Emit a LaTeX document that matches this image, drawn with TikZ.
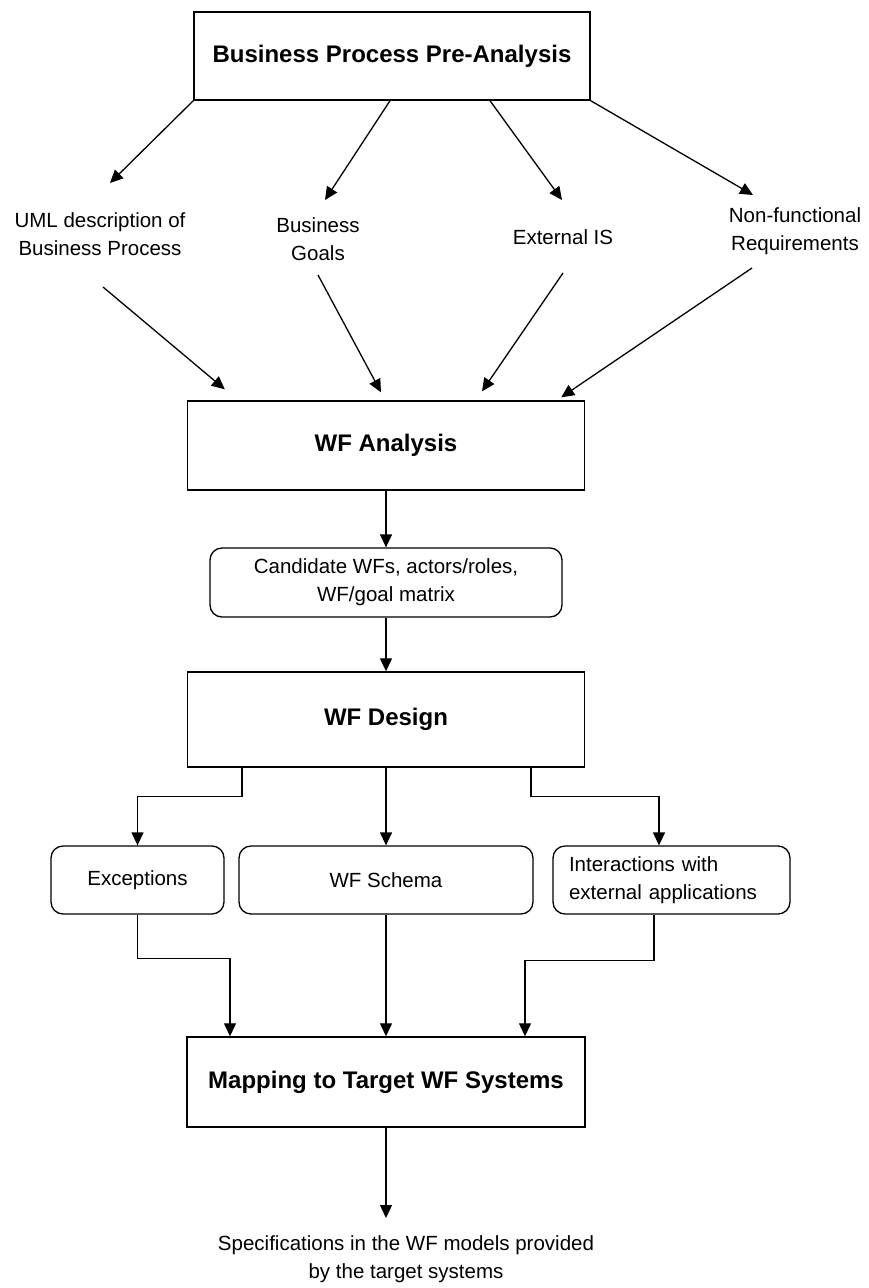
\documentclass[tikz,border=0pt]{standalone}
\usepackage{fontspec}
\setmainfont{Liberation Sans}
\usetikzlibrary{arrows.meta}
\newcommand{\normtext}{\fontsize{20.5pt}{28pt}\selectfont}
\newcommand{\boldtext}{\fontsize{24pt}{29pt}\selectfont\bfseries}
\begin{document}
\begin{tikzpicture}[x=1pt,y=-1pt,
  box/.style={draw, line width=1.4pt, inner sep=0pt, font=\boldtext},
  rbox/.style={draw, line width=1.3pt, rounded corners=12pt, inner sep=0pt, align=center, font=\normtext},
  lbl/.style={align=center, inner sep=0pt, font=\normtext},
  arr/.style={line width=1.3pt, -{Triangle[length=13pt,width=12pt]}}]
\useasboundingbox (0,0) rectangle (869,1288);

% main boxes
\node[box, minimum width=396pt, minimum height=88pt] (bpa) at (392,56) {Business Process Pre-Analysis};
\node[box, minimum width=397pt, minimum height=89pt] (wfa) at (386,445.5) {WF Analysis};
\node[rbox, minimum width=352pt, minimum height=69pt] (cand) at (386,582.5) {Candidate WFs, actors/roles,\\WF/goal matrix};
\node[box, minimum width=397pt, minimum height=95pt] (wfd) at (386,719.5) {WF Design};
\node[rbox, minimum width=173pt, minimum height=68pt] (exc) at (137.5,880) {Exceptions};
\node[rbox, minimum width=294pt, minimum height=68pt] (schema) at (386,880) {WF Schema};
\node[rbox, minimum height=68pt, text width=205pt, align=left, inner xsep=16pt] (inter) at (671.5,880) {Interactions with\\external applications};
\node[box, minimum width=398pt, minimum height=90pt] (map) at (386,1082) {Mapping to Target WF Systems};

% labels
\node[lbl] (uml) at (100,234) {UML description of\\Business Process};
\node[lbl] (goals) at (318,239) {Business\\Goals};
\node[lbl] (extis) at (563,237) {External IS};
\node[lbl] (nfr) at (795,231) {Non-functional\\Requirements};
\node[lbl] (spec) at (406,1259) {Specifications in the WF models provided\\by the target systems};
\coordinate (specin) at (386,1218);

% top box to labels
\draw[arr] (bpa.south west) -- ([shift={(10pt,51pt)}]uml.center);
\draw[arr] ([xshift=-2pt]bpa.south) -- ([shift={(7pt,39pt)}]goals.center);
\draw[arr] ([xshift=98pt]bpa.south) -- ([shift={(-1pt,37pt)}]extis.center);
\draw[arr] (bpa.south east) -- ([shift={(-42pt,36pt)}]nfr.center);

% labels to WF Analysis
\draw[arr] ([shift={(3pt,-53pt)}]uml.center) -- ([shift={(38pt,11pt)}]wfa.north west);
\draw[arr] ([shift={(0pt,-36pt)}]goals.center) -- ([shift={(-5pt,8pt)}]wfa.north);
\draw[arr] ([shift={(0pt,-36pt)}]extis.center) -- ([shift={(96pt,9pt)}]wfa.north);
\draw[arr] ([shift={(-43pt,-37pt)}]nfr.center) -- ([shift={(-24pt,3pt)}]wfa.north east);

% vertical chain
\draw[arr] (wfa.south) -- (cand.north);
\draw[arr] (cand.south) -- (wfd.north);

% WF Design branches
\draw[arr] ([xshift=-144pt]wfd.south) -- ++(0,29) -| (exc.north);
\draw[arr] (wfd.south) -- (schema.north);
\draw[arr] ([xshift=145pt]wfd.south) -- ++(0,29) -| ([xshift=-12.5pt]inter.north);

% merge into Mapping
\draw[arr] (exc.south) -- ++(0,44) -| ([xshift=-156pt]map.north);
\draw[arr] (schema.south) -- (map.north);
\draw[arr] ([xshift=-17.5pt]inter.south) -- ++(0,46) -| ([xshift=139pt]map.north);

% output
\draw[arr] (map.south) -- (specin);
\end{tikzpicture}
\end{document}
